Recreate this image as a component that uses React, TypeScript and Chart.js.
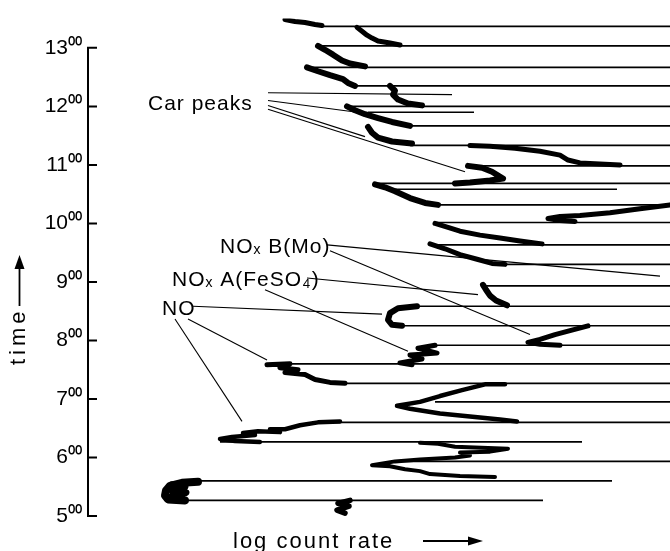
import { useEffect, useRef } from 'react';
import { Chart, registerables } from 'chart.js';

Chart.register(...registerables);

type Pt = [number, number]; // [log count rate (chart divisions), minutes after 05:00]

// y-axis: time ticks (minutes after 05:00) and their labels
const hourTicks = [0, 60, 120, 180, 240, 300, 360, 420, 480];
const hourLabels = ['5⁰⁰', '6⁰⁰', '7⁰⁰', '8⁰⁰', '9⁰⁰', '10⁰⁰', '11⁰⁰', '12⁰⁰', '13⁰⁰'];

// recorder traces (pen excursions)
const traceA: Pt[] = [[197, 509], [207, 507], [217, 506], [227, 504], [234, 503]];
const traceB: Pt[] = [[269, 501], [274, 497], [279, 493], [284, 490], [290, 487], [302, 485], [312, 483]];
const traceC: Pt[] = [[230, 482], [237, 478], [245, 473], [254, 467], [262, 464], [277, 461]];
const traceD: Pt[] = [[219, 460], [230, 456], [242, 452], [255, 448], [260, 444], [267, 441]];
const traceE: Pt[] = [[302, 441], [307, 436], [305, 432], [310, 427], [320, 423], [334, 421]];
const traceF: Pt[] = [[259, 420], [267, 416], [277, 412], [290, 408], [304, 404], [322, 400]];
const traceG: Pt[] = [[280, 399], [284, 393], [290, 388], [304, 384], [324, 382]];
const traceH: Pt[] = [[382, 380], [402, 379], [427, 377], [452, 374], [472, 370], [480, 365], [492, 362], [532, 360]];
const traceI: Pt[] = [[380, 359], [394, 357], [404, 353], [415, 346], [402, 344], [382, 342], [367, 341]];
const traceJ: Pt[] = [[287, 340], [297, 337], [307, 333], [322, 326], [337, 321], [350, 319]];
const traceK: Pt[] = [[582, 319], [552, 315], [522, 311], [492, 308], [472, 307], [460, 305], [472, 303], [487, 302]];
const traceL: Pt[] = [[347, 300], [360, 296], [372, 292], [392, 288], [412, 285], [432, 282], [454, 279]];
const traceM: Pt[] = [[342, 279], [357, 274], [372, 268], [390, 263], [404, 259], [417, 258]];
const traceN: Pt[] = [[395, 237], [398, 232], [402, 226], [408, 221], [419, 216]];
const traceO: Pt[] = [[329, 215], [310, 213], [302, 208], [300, 201], [304, 196], [314, 195]];
const traceP: Pt[] = [[500, 195], [482, 190], [467, 186], [452, 181], [440, 178], [452, 176], [472, 175]];
const traceQ: Pt[] = [[347, 175], [330, 172], [349, 167], [322, 165], [334, 161], [312, 157], [324, 155]];
const traceR: Pt[] = [[179, 155], [202, 156], [192, 152], [210, 150], [197, 147], [217, 145], [227, 140], [242, 137], [257, 136]];
const traceS: Pt[] = [[417, 135], [397, 135], [374, 129], [352, 123], [332, 117], [309, 113], [322, 110], [352, 105], [382, 102], [412, 99], [429, 97]];
const traceU: Pt[] = [[252, 97], [230, 96], [212, 93], [197, 89], [182, 89], [192, 86], [170, 87], [155, 85], [167, 83], [144, 81], [132, 79], [147, 77], [172, 76]];
const traceV: Pt[] = [[332, 75], [350, 74], [367, 71], [420, 69], [402, 66], [372, 65], [382, 62], [367, 60], [332, 58], [307, 56], [284, 52], [302, 51], [317, 48], [332, 46], [342, 43], [372, 41], [407, 40]];
const traceW: Pt[] = [[110, 35], [94, 34], [82, 31], [78, 26], [77, 21], [80, 17], [97, 16]];
const traceWcore: Pt[] = [[84, 32], [97, 30], [84, 26], [98, 24], [84, 20], [94, 18]];
const traceX: Pt[] = [[262, 16], [250, 13], [261, 10], [249, 6], [257, 3]];

// horizontal pen sweeps: [from, to, minutes after 05:00]
const sweepLines: [number, number, number][] = [
  [234, 582, 502], [230, 582, 482], [219, 582, 460], [264, 582, 441], [259, 582, 420],
  [280, 386, 414], [317, 582, 400], [322, 582, 380], [380, 582, 359], [287, 582, 341],
  [297, 529, 335], [350, 582, 319], [347, 582, 301], [344, 582, 278], [417, 582, 258],
  [397, 582, 236], [322, 582, 215], [314, 582, 195], [344, 582, 175], [179, 582, 156],
  [247, 582, 136], [347, 582, 117], [232, 582, 96], [132, 494, 76], [307, 582, 56],
  [102, 524, 36], [99, 455, 16],
];

// annotation texts
const labelTexts = ['Car peaks', 'NOₓ B(Mo)', 'NOₓ A(FeSO₄)', 'NO'];

// ---- annotation layout (not data) ----
const labelAnchors: Pt[] = [[60, 416], [132, 270], [84, 236], [74, 206]];
const leaderLines: [number, number, number, number][] = [
  [180, 434, 364, 432], [180, 426, 269, 414], [180, 421, 277, 389], [180, 417, 377, 353],
  [239, 278, 572, 246], [242, 272, 442, 186],
  [219, 244, 390, 227], [177, 232, 320, 169],
  [105, 215, 294, 207], [100, 202, 179, 160], [87, 202, 154, 97],
];

const traces: { pts: Pt[]; w: number }[] = [
  { pts: traceA, w: 5 }, { pts: traceB, w: 5 }, { pts: traceC, w: 6 }, { pts: traceD, w: 6 },
  { pts: traceE, w: 6 }, { pts: traceF, w: 6 }, { pts: traceG, w: 6 }, { pts: traceH, w: 5 },
  { pts: traceI, w: 6 }, { pts: traceJ, w: 6 }, { pts: traceK, w: 5 }, { pts: traceL, w: 5 },
  { pts: traceM, w: 5 }, { pts: traceN, w: 6 }, { pts: traceO, w: 6 }, { pts: traceP, w: 5 },
  { pts: traceQ, w: 5 }, { pts: traceR, w: 5 }, { pts: traceS, w: 4.5 }, { pts: traceU, w: 4.5 },
  { pts: traceV, w: 4 }, { pts: traceW, w: 8 }, { pts: traceWcore, w: 7 }, { pts: traceX, w: 5.5 },
];

const FONT = '"Liberation Sans", Arial, sans-serif';

const decor = {
  id: 'decor',
  afterDatasetsDraw(chart: any) {
    const { ctx, chartArea: ca, scales } = chart;
    const xs = scales.x;
    const ys = scales.y;
    ctx.save();
    ctx.strokeStyle = '#000';
    ctx.fillStyle = '#000';
    // time axis with inward ticks
    ctx.lineWidth = 2;
    ctx.beginPath();
    ctx.moveTo(ca.left, ys.getPixelForValue(0) + 1);
    ctx.lineTo(ca.left, ys.getPixelForValue(480) - 1);
    hourTicks.forEach((v) => {
      const py = ys.getPixelForValue(v);
      ctx.moveTo(ca.left - 1, py);
      ctx.lineTo(ca.left + 9, py);
    });
    ctx.stroke();

    // annotation labels
    ctx.font = `21px ${FONT}`;
    ctx.letterSpacing = '1px';
    ctx.textAlign = 'left';
    ctx.textBaseline = 'alphabetic';
    labelTexts.forEach((t, i) => {
      const [ax, at] = labelAnchors[i];
      ctx.fillText(t, xs.getPixelForValue(ax), ys.getPixelForValue(at));
    });

    // x title + arrow
    ctx.font = `22px ${FONT}`;
    ctx.letterSpacing = '2px';
    ctx.fillText('log count rate', ca.left + 145, ca.bottom + 32);
    const ay = ca.bottom + 25;
    ctx.lineWidth = 1.8;
    ctx.beginPath();
    ctx.moveTo(ca.left + 335, ay);
    ctx.lineTo(ca.left + 385, ay);
    ctx.stroke();
    ctx.beginPath();
    ctx.moveTo(ca.left + 380, ay - 4.5);
    ctx.lineTo(ca.left + 395, ay);
    ctx.lineTo(ca.left + 380, ay + 4.5);
    ctx.closePath();
    ctx.fill();

    // y title + arrow
    ctx.letterSpacing = '4px';
    ctx.save();
    ctx.translate(25, ca.bottom - 151);
    ctx.rotate(-Math.PI / 2);
    ctx.fillText('time', 0, 0);
    ctx.restore();
    ctx.beginPath();
    ctx.moveTo(19.5, ca.bottom - 210);
    ctx.lineTo(19.5, ca.bottom - 250);
    ctx.stroke();
    ctx.beginPath();
    ctx.moveTo(14.5, ca.bottom - 247);
    ctx.lineTo(19.5, ca.bottom - 261);
    ctx.lineTo(24.5, ca.bottom - 247);
    ctx.closePath();
    ctx.fill();
    ctx.restore();
  },
};

export default function App() {
  const ref = useRef<HTMLCanvasElement>(null);
  useEffect(() => {
    const common = { showLine: true, borderColor: '#000', backgroundColor: '#000', pointRadius: 0, fill: false, tension: 0 };
    const datasets: any[] = [
      ...traces.map((t) => ({
        ...common,
        data: t.pts.map(([x, y]) => ({ x, y })),
        borderWidth: t.w,
        borderJoinStyle: 'round',
        borderCapStyle: 'round',
      })),
      ...sweepLines.map(([x1, x2, t]) => ({
        ...common,
        data: [{ x: x1, y: t }, { x: x2, y: t }],
        borderWidth: 1.6,
      })),
      ...leaderLines.map(([x1, t1, x2, t2]) => ({
        ...common,
        data: [{ x: x1, y: t1 }, { x: x2, y: t2 }],
        borderWidth: 1.1,
      })),
    ];
    const chart = new Chart(ref.current!, {
      type: 'scatter',
      data: { datasets },
      options: {
        responsive: false,
        animation: false,
        devicePixelRatio: 1,
        layout: { padding: { top: 13, bottom: 35, left: 0, right: 0 } },
        plugins: { legend: { display: false }, tooltip: { enabled: false } },
        scales: {
          x: { type: 'linear', display: false, min: 0, max: 582 },
          y: {
            type: 'linear',
            min: 0,
            max: 510,
            afterFit: (s: any) => { s.width = 88; },
            grid: { display: false, drawTicks: false },
            border: { display: false },
            ticks: {
              stepSize: 60,
              includeBounds: false,
              autoSkip: false,
              padding: 6,
              color: '#000',
              font: { family: FONT, size: 21 },
              callback: (v: any) => {
                const i = hourTicks.indexOf(Number(v));
                return i >= 0 ? hourLabels[i] : '';
              },
            },
          },
        },
      },
      plugins: [decor],
    } as any);
    return () => chart.destroy();
  }, []);
  return (
    <div style={{ position: 'absolute', left: 0, top: 0, width: 670, height: 551, background: '#fff' }}>
      <canvas ref={ref} width={670} height={551} style={{ display: 'block' }} />
    </div>
  );
}
